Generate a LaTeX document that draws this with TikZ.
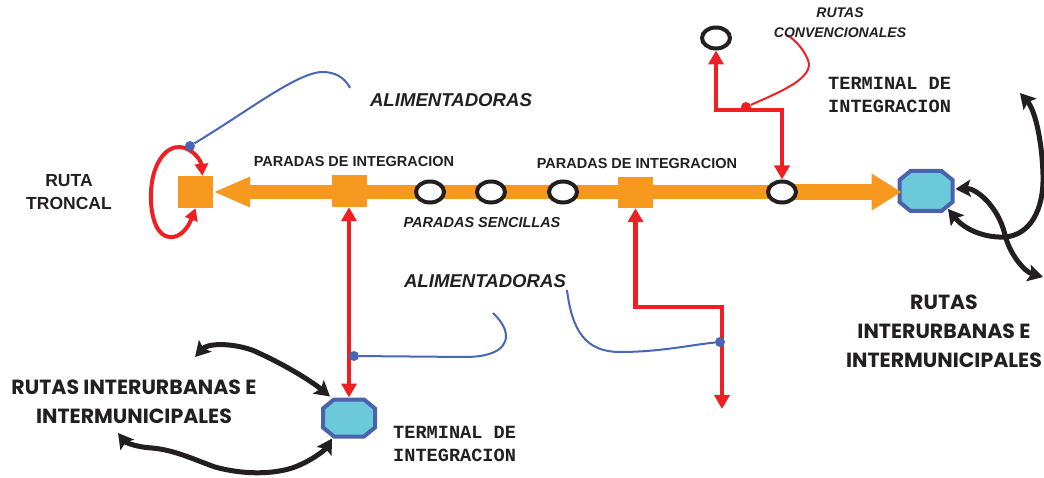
\documentclass[tikz,border=0pt]{standalone}
\usepackage{fontspec}
\setmainfont{Liberation Sans}
\newfontfamily\monof{Liberation Mono}
\newfontfamily\comicf{Poppins}
\usetikzlibrary{arrows.meta,shapes.geometric}
\definecolor{orng}{HTML}{F7991F}
\definecolor{rd}{HTML}{EE2024}
\definecolor{blu}{HTML}{4766B5}
\definecolor{octb}{HTML}{4A63B0}
\definecolor{octf}{HTML}{6CC9DA}
\definecolor{blk}{HTML}{231F20}
\tikzset{
  sqr/.style={rectangle, fill=orng, minimum width=35pt, minimum height=32pt, inner sep=0pt},
  stopc/.style={ellipse, draw=blk, line width=4pt, fill=white, minimum width=28pt, minimum height=21pt, inner sep=0pt},
  termbox/.style={rectangle, inner sep=0pt, outer sep=0pt},
  termo/.style={draw=octb, fill=octf, line width=4pt, line join=miter},
  redarr/.style={draw=rd, line width=4.5pt, {Triangle[length=14pt,width=15pt]}-{Triangle[length=14pt,width=15pt]}},
  redloop/.style={draw=rd, line width=4pt, {Triangle[length=12pt,width=13pt]}-{Triangle[length=12pt,width=13pt]}},
  blkarr/.style={draw=blk, line width=5pt, {Stealth[length=15pt,width=17pt,inset=3pt]}-{Stealth[length=15pt,width=17pt,inset=3pt]}},
  bluel/.style={draw=blu, line width=2pt},
  thinred/.style={draw=rd, line width=2pt},
  lab/.style={text=blk, inner sep=0pt, font=\bfseries\fontsize{14.5pt}{17pt}\selectfont},
  labi/.style={text=blk, inner sep=0pt, font=\bfseries\itshape\fontsize{14.5pt}{17pt}\selectfont},
  alim/.style={text=blk, inner sep=0pt, font=\bfseries\itshape\fontsize{18.6pt}{22pt}\selectfont},
  monol/.style={text=blk, inner sep=0pt, align=left, font=\monof\bfseries\fontsize{18.6pt}{23pt}\selectfont},
  comicl/.style={text=blk, inner sep=0pt, align=center, font=\comicf\bfseries\fontsize{20.5pt}{29pt}\selectfont},
}
\newcommand{\octdraw}[3]{% node name, chamfer x, chamfer y
  \draw[termo] ([xshift=#2]#1.north west) -- ([xshift=-#2]#1.north east) -- ([yshift=-#3]#1.north east)
    -- ([yshift=#3]#1.south east) -- ([xshift=-#2]#1.south east) -- ([xshift=#2]#1.south west)
    -- ([yshift=#3]#1.south west) -- ([yshift=-#3]#1.north west) -- cycle;}
\begin{document}
\begin{tikzpicture}[x=1pt,y=-1pt]
\useasboundingbox (0,0) rectangle (1044,478);

% nodes of the trunk
\node[sqr] (sq1) at (195.5,192) {};
\node[sqr] (sq2) at (349,191) {};
\node[sqr, minimum height=31pt] (sq3) at (635.5,192.5) {};
\node[termbox, minimum width=53pt, minimum height=40pt] (oct1) at (926,191) {};
\node[termbox, minimum width=52pt, minimum height=37pt] (oct2) at (349,418) {};
\octdraw{oct1}{11pt}{9pt}
\octdraw{oct2}{11pt}{9pt}

% orange trunk
\coordinate (trs) at (770,192);
\draw[orng, line width=14pt, -{Triangle[length=37pt,width=28pt]}] (trs) -- (sq1.east);
\coordinate (trr) at (790,192);
\draw[orng, line width=16pt, -{Triangle[length=30pt,width=35pt]}] (trr) -- ([xshift=2pt]oct1.west |- trr);

% stops
\node[stopc] (c1) at (430,192) {};
\node[stopc] (c2) at (491,192) {};
\node[stopc] (c3) at (563,192) {};
\node[stopc] (c4) at (782,192) {};
\node[stopc] (c5) at (716,38) {};

% red connectors
\draw[redloop] (sq1.south) .. controls (188,228) and (180,238) .. (170,237)
  .. controls (155,236) and (150,212) .. (151,192)
  .. controls (152,165) and (165,146) .. (180,147)
  .. controls (192,148) and (201,160) .. ([xshift=7pt]sq1.north);
\draw[redarr] (sq2.south) -- ([yshift=2pt]oct2.north);
\coordinate (rbot) at (722,409);
\draw[redarr] (sq3.south) -- (sq3.south |- 0,307) -- (rbot |- 0,307) -- (rbot);
\draw[redarr] (c5.south) -- (c5.south |- 0,110) -- (c4.north |- 0,110) -- (c4.north);
\coordinate (rconv) at (787,35);
\node[circle, fill=rd, inner sep=0pt, minimum size=10pt] (rdot) at (746,107) {};
\draw[thinred] (rdot) .. controls (780,92) and (815,78) .. (808,60) .. controls (803,48) and (795,40) .. (rconv);

% blue feeder lines
\node[circle, fill=blu, inner sep=0pt, minimum size=10pt] (bd1) at (190,146) {};
\coordinate (ba1) at (350,88);
\draw[bluel] (bd1) .. controls (250,110) and (300,70) .. (325,72) .. controls (340,73) and (347,82) .. (ba1);
\node[circle, fill=blu, inner sep=0pt, minimum size=10pt] (bd2) at (354,356) {};
\coordinate (ba2) at (493,313);
\draw[bluel] (bd2) -- (465,357) .. controls (495,357) and (510,347) .. (505,330) .. controls (502,322) and (497,317) .. (ba2);
\node[circle, fill=blu, inner sep=0pt, minimum size=10pt] (bd3) at (720,342) {};
\coordinate (ba3) at (567,290);
\draw[bluel] (ba3) .. controls (572,330) and (585,352) .. (620,352) .. controls (660,352) and (690,345) .. (bd3);

% black interurban arrows
\coordinate (bl1) at (195,357);
\draw[blkarr] (bl1) .. controls (207,344) and (228,342) .. (252,350) .. controls (280,362) and (310,380) .. ([shift={(7,-3)}]oct2.north west);
\coordinate (bl2) at (118,433);
\draw[blkarr] (bl2) .. controls (125,442) and (135,447) .. (152,448)
  .. controls (175,450) and (195,460) .. (215,467)
  .. controls (240,474) and (270,475) .. (292,468)
  .. controls (310,462) and (325,450) .. ([shift={(9,2)}]oct2.south west);
\coordinate (ra) at (1043,277);
\draw[blkarr] ([shift={(3,-2)}]oct1.east) .. controls (975,188) and (998,205) .. (1005,235) .. controls (1010,255) and (1025,272) .. (ra);
\coordinate (rb) at (1020,93);
\draw[blkarr] ([shift={(-4.5,-2)}]oct1.south east) .. controls (965,230) and (985,238) .. (1005,237) .. controls (1030,235) and (1044,210) .. (1043,175) .. controls (1042,140) and (1035,110) .. (rb);

% labels
\node[text=blk, inner sep=0pt, align=center, font=\bfseries\fontsize{17.5pt}{23pt}\selectfont] (lrt) at (69,192.5) {RUTA\\TRONCAL};
\node[alim] (la1) at (451,100) {ALIMENTADORAS};
\node[alim] (la2) at (485,281) {ALIMENTADORAS};
\node[lab] (lp1) at (354,162) {PARADAS DE INTEGRACION};
\node[lab] (lp2) at (637,164) {PARADAS DE INTEGRACION};
\node[labi] (lps) at (482,223) {PARADAS SENCILLAS};
\node[text=blk, inner sep=0pt, align=center, font=\bfseries\itshape\fontsize{14pt}{20pt}\selectfont] (lrc) at (840,23) {RUTAS\\CONVENCIONALES};
\node[monol, anchor=west] (lt1) at (828,94.5) {TERMINAL DE\\INTEGRACION};
\node[monol, anchor=west] (lt2) at (393,444) {TERMINAL DE\\INTEGRACION};
\node[comicl] (li1) at (134,401.5) {RUTAS INTERURBANAS E\\INTERMUNICIPALES};
\node[comicl] (li2) at (944,331) {RUTAS\\INTERURBANAS E\\INTERMUNICIPALES};
\end{tikzpicture}
\end{document}
